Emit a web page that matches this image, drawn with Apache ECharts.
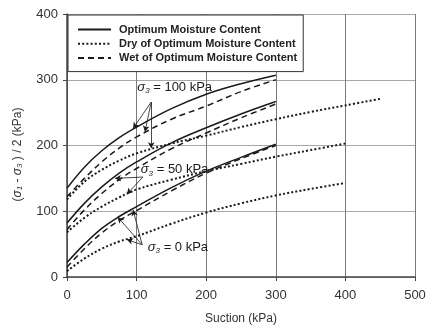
<!DOCTYPE html>
<html><head><meta charset="utf-8">
<script src="https://cdn.jsdelivr.net/npm/echarts@6/dist/echarts.min.js"></script>
<style>html,body{margin:0;padding:0;background:#fff}#c{width:426px;height:327px}</style>
</head><body><div id="c"></div>
<script>
// ---- data ----
const suction = [0, 25, 50, 75, 100, 150, 200, 250, 300];
const suctionDry100 = [0, 25, 50, 75, 100, 150, 200, 250, 300, 350, 400, 450];
const suctionDry = [0, 25, 50, 75, 100, 150, 200, 250, 300, 350, 400];

const opt100 = [135, 167, 192, 212, 228, 256, 278, 294, 307];
const wet100 = [122, 150, 175, 196, 213, 240, 260, 282, 300];
const dry100 = [118, 145, 163, 177, 188, 203, 215, 228, 240, 251, 261, 271];

const opt50 = [82, 112, 137, 158, 175, 204, 227, 248, 267];
const wet50 = [72, 102, 127, 148, 165, 195, 219, 242, 263];
const dry50 = [68, 90, 107, 121, 133, 148, 161, 172, 183, 193, 203];

const opt0 = [22, 50, 74, 92, 107, 136, 161, 182, 202];
const wet0 = [15, 43, 67, 86, 101, 131, 158, 180, 200];
const dry0 = [9, 28, 43, 54, 62, 81, 98, 112, 124, 134, 143];

const legendNames = ['Optimum Moisture Content', 'Dry of Optimum Moisture Content', 'Wet of Optimum Moisture Content'];
const xTicks = [0, 100, 200, 300, 400, 500];
const yTicks = [0, 100, 200, 300, 400];

// annotation data (label anchor, arrow apex, arrow targets) in data units
const annot = [
  { sig: '3', text: ' = 100 kPa', at: [101, 289], apex: [121, 266], targets: [[95, 226], [112, 221], [121, 196]] },
  { sig: '3', text: ' = 50 kPa', at: [106, 163], apex: [109, 152], targets: [[69, 150], [86, 126]] },
  { sig: '3', text: ' = 0 kPa', at: [116, 45], apex: [108, 49], targets: [[73, 91], [95, 102], [86, 57]] }
];

function pairs(xs, ys) { return xs.map((x, i) => [x, ys[i]]); }

const FONT = 'Liberation Sans';
const ink = '#1a1a1a';
const styles = {
  [legendNames[0]]: { type: 'solid', width: 1.5 },
  [legendNames[1]]: { type: [2, 2.2], width: 2 },
  [legendNames[2]]: { type: [6, 4], width: 1.5 }
};

function mk(name, xs, ys) {
  return {
    type: 'line', name: name, data: pairs(xs, ys), smooth: 0.4, showSymbol: false, symbol: 'none',
    lineStyle: Object.assign({ color: ink }, styles[name]), itemStyle: { color: ink },
    silent: true, z: 3
  };
}

const series = [
  mk(legendNames[0], suction, opt100),
  mk(legendNames[1], suctionDry100, dry100),
  mk(legendNames[2], suction, wet100),
  mk(legendNames[0], suction, opt50),
  mk(legendNames[1], suctionDry, dry50),
  mk(legendNames[2], suction, wet50),
  mk(legendNames[0], suction, opt0),
  mk(legendNames[1], suctionDry, dry0),
  mk(legendNames[2], suction, wet0)
];

const markLines = [];
const markPoints = [];
annot.forEach(a => {
  a.targets.forEach(t => {
    markLines.push([{ coord: a.apex, symbol: 'none' }, { coord: t, symbol: 'arrow', symbolSize: [5, 6] }]);
  });
  markPoints.push({
    coord: a.at, symbol: 'circle', symbolSize: 0,
    label: {
      show: true, position: 'right', distance: 0,
      formatter: '{i|σ}{s|' + a.sig + '}{t|' + a.text + '}',
      rich: {
        i: { fontFamily: FONT, fontStyle: 'italic', fontSize: 13, color: ink },
        s: { fontFamily: FONT, fontStyle: 'italic', fontSize: 8, color: ink, verticalAlign: 'bottom', padding: [7, 0, 0, 0] },
        t: { fontFamily: FONT, fontSize: 13, color: ink }
      }
    }
  });
});

series.push({
  type: 'line', name: 'annot', data: [], silent: true, z: 4,
  markLine: { silent: true, animation: false, label: { show: false }, lineStyle: { color: ink, width: 0.8, type: 'solid' }, data: markLines },
  markPoint: { silent: true, animation: false, data: markPoints }
});

const chart = echarts.init(document.getElementById('c'), null, { renderer: 'canvas' });
chart.setOption({
  animation: false,
  backgroundColor: '#fff',
  textStyle: { fontFamily: FONT },
  grid: { left: 67, right: 11, top: 14, bottom: 50, containLabel: false, outerBoundsMode: 'none' },
  legend: {
    data: legendNames, orient: 'vertical', left: 68, top: 15,
    itemWidth: 33, itemHeight: 14, itemGap: 3,
    padding: [9, 6, 8, 9],
    itemStyle: { opacity: 0, borderWidth: 0 },
    backgroundColor: '#fff', borderColor: '#333', borderWidth: 1, borderRadius: 0,
    textStyle: { fontFamily: FONT, fontSize: 11, fontWeight: 'bold', color: '#222', padding: [0, 0, 0, 3] },
    selectedMode: false, z: 10
  },
  xAxis: {
    type: 'value', min: xTicks[0], max: xTicks[xTicks.length - 1], interval: 100,
    name: 'Suction (kPa)', nameLocation: 'middle', nameGap: 36,
    nameTextStyle: { fontFamily: FONT, fontSize: 12, color: '#333' },
    axisLine: { lineStyle: { color: '#444', width: 1.5 } },
    axisTick: { show: true, length: 4, lineStyle: { color: '#444' } },
    axisLabel: { fontFamily: FONT, fontSize: 13, color: '#333', margin: 12 },
    splitLine: { show: true, lineStyle: { color: '#7a7a7a', width: 1 } }
  },
  yAxis: {
    type: 'value', min: yTicks[0], max: yTicks[yTicks.length - 1], interval: 100,
    name: '({i|σ}{s|1} - {i|σ}{s|3} ) / 2 (kPa)', nameLocation: 'middle', nameGap: 43,
    nameTextStyle: {
      fontFamily: FONT, fontSize: 12, color: '#333', padding: [0, 18, 0, 0],
      rich: {
        i: { fontFamily: FONT, fontStyle: 'italic', fontSize: 12, color: '#333' },
        s: { fontFamily: FONT, fontStyle: 'italic', fontSize: 8, color: '#333', verticalAlign: 'bottom', padding: [5, 0, 0, 0] }
      }
    },
    axisLine: { show: true, lineStyle: { color: '#444', width: 1.5 } },
    axisTick: { show: true, length: 4, lineStyle: { color: '#444' } },
    axisLabel: { fontFamily: FONT, fontSize: 13, color: '#333', margin: 9 },
    splitLine: { show: true, lineStyle: { color: '#a8a8a8', width: 1 } }
  },
  series: series
});
</script></body></html>
